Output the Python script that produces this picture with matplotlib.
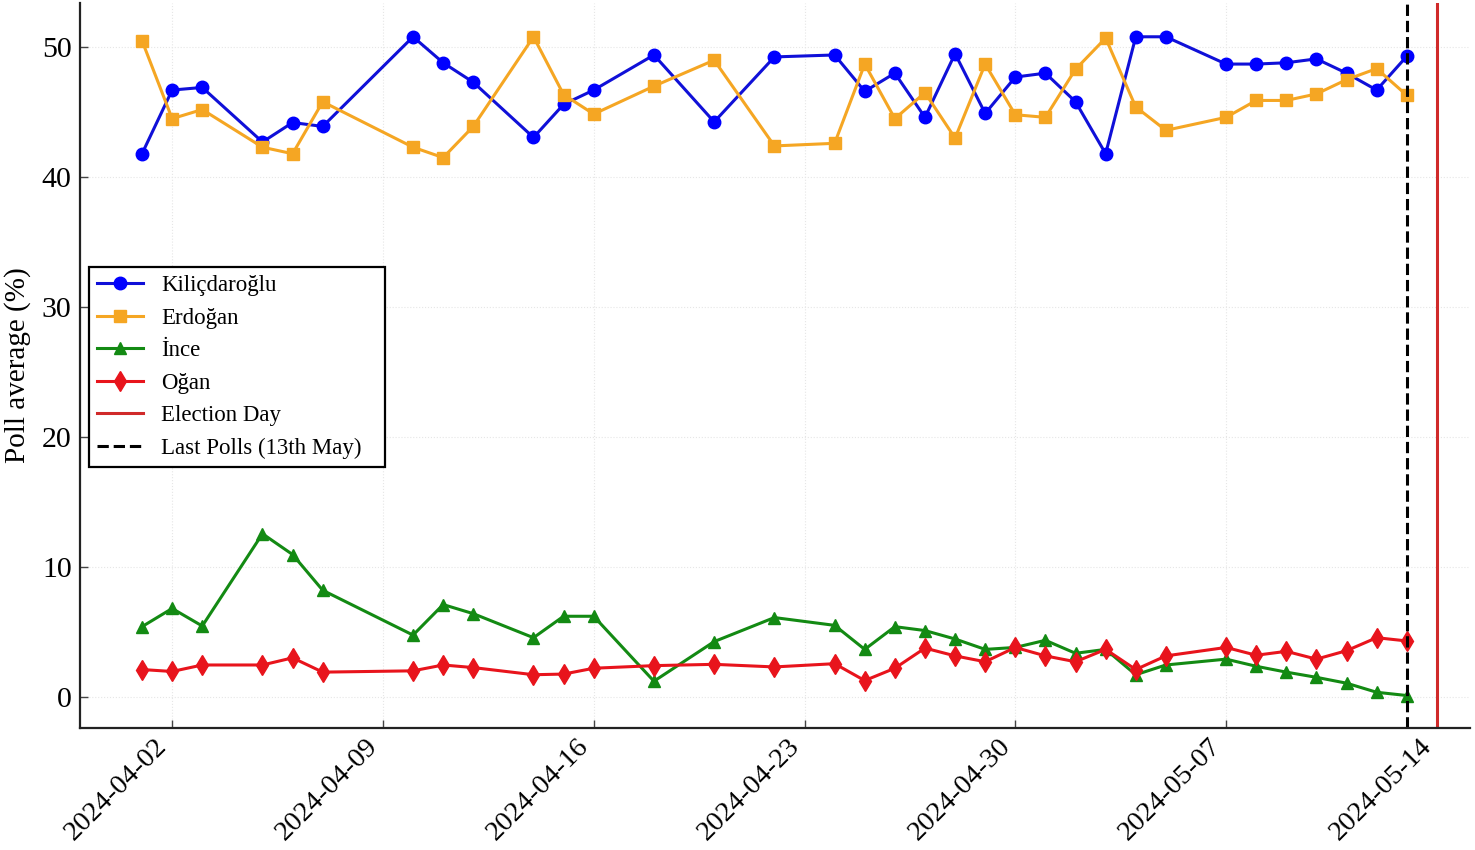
import matplotlib
matplotlib.use("Agg")
import matplotlib.pyplot as plt
import matplotlib.dates as mdates
import pandas as pd

plt.rcParams['font.family'] = ['Liberation Serif', 'DejaVu Serif']
plt.rcParams['mathtext.fontset'] = 'stix'

dates = ["2024-04-01", "2024-04-02", "2024-04-03", "2024-04-05", "2024-04-06", "2024-04-07",
         "2024-04-10", "2024-04-11", "2024-04-12", "2024-04-14", "2024-04-15", "2024-04-16",
         "2024-04-18", "2024-04-20", "2024-04-22", "2024-04-24", "2024-04-25", "2024-04-26",
         "2024-04-27", "2024-04-28", "2024-04-29", "2024-04-30", "2024-05-01", "2024-05-02",
         "2024-05-03", "2024-05-04", "2024-05-05", "2024-05-07", "2024-05-08", "2024-05-09",
         "2024-05-10", "2024-05-11", "2024-05-12", "2024-05-13"]

kilicdaroglu = [41.8, 46.7, 46.9, 42.7, 44.2, 43.9, 50.8, 48.8, 47.3, 43.05, 45.6, 46.7,
                49.4, 44.25, 49.25, 49.4, 46.6, 48.0, 44.6, 49.5, 44.9, 47.7, 48.0, 45.8,
                41.8, 50.8, 50.8, 48.7, 48.7, 48.8, 49.1, 48.0, 46.7, 49.3]
erdogan = [50.5, 44.5, 45.2, 42.3, 41.8, 45.8, 42.3, 41.5, 43.9, 50.8, 46.35, 44.85,
           47.0, 49.0, 42.4, 42.6, 48.7, 44.5, 46.5, 43.0, 48.7, 44.8, 44.6, 48.3,
           50.7, 45.4, 43.6, 44.6, 45.9, 45.9, 46.4, 47.5, 48.35, 46.3]
ince = [5.4, 6.8, 5.45, 12.55, 10.95, 8.2, 4.75, 7.1, 6.4, 4.55, 6.2, 6.2,
        1.2, 4.25, 6.1, 5.5, 3.65, 5.4, 5.1, 4.45, 3.65, 3.8, 4.35, 3.35,
        3.65, 1.7, 2.45, 2.9, 2.35, 1.9, 1.5, 1.05, 0.35, 0.1]
ogan = [2.1, 1.95, 2.45, 2.45, 3.0, 1.9, 2.0, 2.45, 2.25, 1.7, 1.75, 2.2,
        2.4, 2.5, 2.3, 2.55, 1.25, 2.2, 3.75, 3.15, 2.7, 3.8, 3.15, 2.7,
        3.65, 2.1, 3.15, 3.8, 3.2, 3.5, 2.9, 3.55, 4.55, 4.3]

election_day = "2024-05-14"
last_polls = "2024-05-13"
tick_dates = ["2024-04-02", "2024-04-09", "2024-04-16", "2024-04-23",
              "2024-04-30", "2024-05-07", "2024-05-14"]

x = pd.to_datetime(dates)

fig = plt.figure(figsize=(14.75, 8.5), dpi=100)
ax = fig.add_axes([80/1475, 1 - 728/850, (1470 - 80)/1475, (728 - 3)/850])

lw = 2.2
ax.plot(x, kilicdaroglu, color='#1010d8', marker='o', markersize=9, linewidth=lw,
        markerfacecolor='blue', markeredgecolor='blue', label='Kiliçdaroğlu')
ax.plot(x, erdogan, color='#f5a623', marker='s', markersize=8.5, linewidth=lw,
        label='Erdoğan')
ax.plot(x, ince, color='#138a13', marker='^', markersize=8.5, linewidth=lw,
        label='İnce')
ax.plot(x, ogan, color='#e8141c', marker='d', markersize=10, linewidth=lw,
        label='Oğan')
ax.axvline(pd.Timestamp(election_day), color='#d02a2a', linewidth=2.2, label='Election Day')
ax.axvline(pd.Timestamp(last_polls), color='black', linestyle='--', linewidth=2.2,
           label='Last Polls (13th May)')

ax.set_xlim(pd.Timestamp("2024-04-01") - pd.Timedelta(days=2.06),
            pd.Timestamp(election_day) + pd.Timedelta(days=1.1))
ax.set_ylim(-2.4, 53.4)

ax.set_xticks(pd.to_datetime(tick_dates))
ax.xaxis.set_major_formatter(mdates.DateFormatter('%Y-%m-%d'))
ax.set_yticks([0, 10, 20, 30, 40, 50])

for lab in ax.get_xticklabels():
    lab.set_rotation(45)
    lab.set_ha('right')

ax.tick_params(axis='both', direction='in', length=6, width=1, color='#444444')
ax.tick_params(axis='x', pad=4, labelsize=20.5)
ax.tick_params(axis='y', pad=6, labelsize=21.5)

ax.set_ylabel('Poll average (%)', fontsize=21, labelpad=8)

for s in ['top', 'right']:
    ax.spines[s].set_visible(False)
ax.spines['left'].set_linewidth(1.6)
ax.spines['bottom'].set_linewidth(1.6)
ax.spines['left'].set_color('#222222')
ax.spines['bottom'].set_color('#222222')

ax.grid(True, color='#e6e6e6', linestyle=':', linewidth=0.8)

# legend box spanning pixel x 89..385, top at y 267
bx0 = (89 - 80) / 1390
bw = (385 - 89) / 1390
btop = (728 - 267) / 725
bh = (464 - 267) / 725
leg = ax.legend(loc='upper left', bbox_to_anchor=(bx0, btop - bh, bw, bh), mode='expand',
                borderaxespad=0, fontsize=16.5,
                frameon=True, fancybox=False, edgecolor='black', framealpha=1,
                handlelength=2.0, labelspacing=0.5, borderpad=0.35, handletextpad=0.8)
leg.get_frame().set_linewidth(1.6)

fig.savefig('out.png', dpi=100)
